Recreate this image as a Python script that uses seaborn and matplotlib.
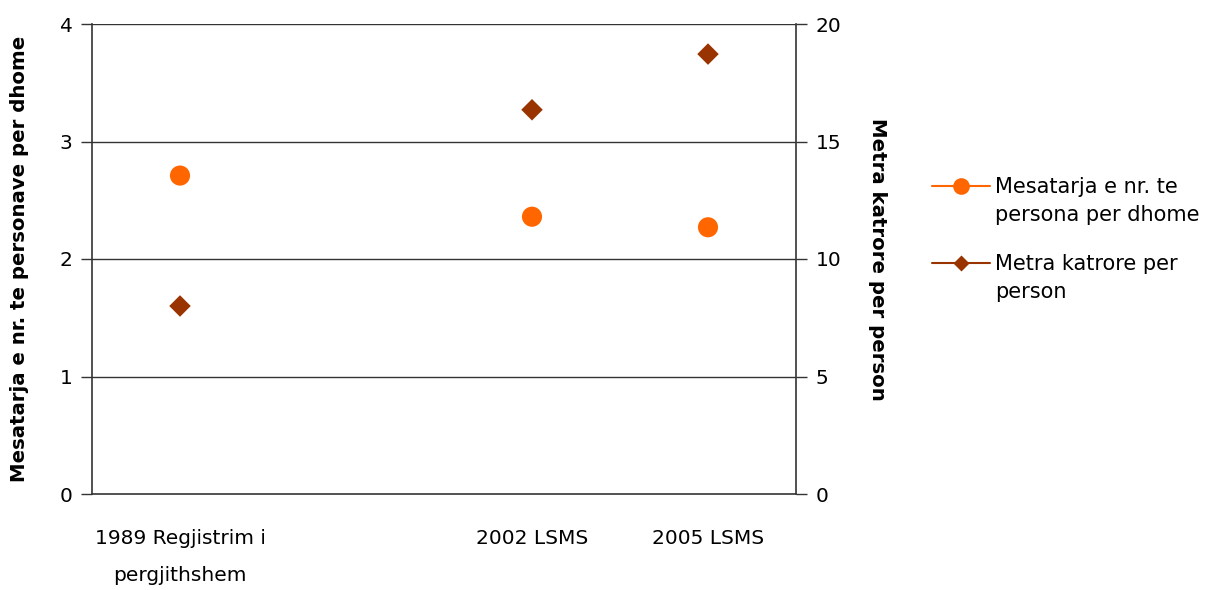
import numpy as np
import matplotlib
matplotlib.use("Agg")
import matplotlib.pyplot as plt
from matplotlib.lines import Line2D
from matplotlib.legend_handler import HandlerLine2D
from matplotlib.transforms import Affine2D
import seaborn as sns

categories = ["1989 Regjistrim i\npergjithshem", "", "2002 LSMS", "2005 LSMS"]
persons_per_room = [2.71, np.nan, 2.36, 2.27]
sqm_per_person = [8.0, np.nan, 16.35, 18.72]
left_ticks = [0, 1, 2, 3, 4]
right_ticks = [0, 5, 10, 15, 20]
label_left = "Mesatarja e nr. te personave per dhome"
label_right = "Metra katrore per person"
legend_labels = ["Mesatarja e nr. te\npersona per dhome", "Metra katrore per\nperson"]

sns.set_theme(style="white")
plt.rcParams['font.family'] = ['DejaVu Sans']
for k in ["text.color", "axes.labelcolor", "xtick.color", "ytick.color"]:
    plt.rcParams[k] = "black"
FS = 14.5
LFS = 15

fig = plt.figure(figsize=(12.16, 5.90), dpi=100)
ax = fig.add_axes([92/1216, 1-494/590, (796-92)/1216, (494-24)/590])
ax2 = ax.twinx()

x = np.arange(len(categories))
c_orange = "#FF6600"
c_brown = "#993300"

sns.scatterplot(x=x, y=persons_per_room, ax=ax, color=c_orange, marker="o", s=210,
                edgecolor="none", zorder=5)
sns.scatterplot(x=x, y=sqm_per_person, ax=ax2, color=c_brown, marker="D", s=120,
                edgecolor="none", zorder=5)

ax.set_xlim(-0.5, len(categories) - 0.5)
ax.set_ylim(0, 4)
ax2.set_ylim(0, 20)
ax.set_yticks(left_ticks)
ax2.set_yticks(right_ticks)
ax.set_yticklabels([str(t) for t in left_ticks], fontsize=FS)
ax2.set_yticklabels([str(t) for t in right_ticks], fontsize=FS)

ax.set_xticks(np.arange(len(categories) + 1) - 0.5)
ax.set_xticklabels([""] * (len(categories) + 1))
ax.set_xticks(x, minor=True)
ax.set_xticklabels(categories, minor=True, fontsize=FS)
for lbl in ax.get_xticklabels(minor=True):
    lbl.set_linespacing(2.2)
ax.tick_params(axis="x", which="minor", length=0, pad=25)
ax.tick_params(axis="x", which="major", direction="inout", length=14, width=1, color="#333333")
ax.tick_params(axis="y", direction="out", length=8, width=1, color="#333333", pad=6, left=True)
ax2.tick_params(axis="y", direction="out", length=8, width=1, color="#333333", pad=6, right=True)

for t in [1, 2, 3, 4]:
    ax.axhline(t, color="#333333", lw=1.0, zorder=1)

for name, sp in ax.spines.items():
    sp.set_visible(name in ("left", "bottom"))
    sp.set_color("#333333"); sp.set_linewidth(1.2)
for name, sp in ax2.spines.items():
    sp.set_visible(name == "right")
    sp.set_color("#333333"); sp.set_linewidth(1.2)

ax.set_ylabel(label_left, fontsize=14.2, fontweight="bold", labelpad=22)
ax2.set_ylabel(label_right, fontsize=14.2, fontweight="bold", rotation=270, labelpad=33)
ax.set_xlabel("")
ax.grid(False); ax2.grid(False)


class TopHandler(HandlerLine2D):
    def create_artists(self, legend, orig_handle, xdescent, ydescent, width, height, fontsize, trans):
        shift = Affine2D().translate(0, 11.0)
        return super().create_artists(legend, orig_handle, xdescent, ydescent, width, height,
                                      fontsize, shift + trans)


handles = [
    Line2D([0], [0], color=c_orange, lw=1.5, marker="o", markersize=12, markeredgecolor="none"),
    Line2D([0], [0], color=c_brown, lw=1.5, marker="D", markersize=8.5, markeredgecolor="none"),
]
leg = fig.legend(handles, legend_labels, loc="upper left", bbox_to_anchor=(913/1216, 1-158/590),
                 frameon=False, fontsize=LFS, handlelength=2.8, labelspacing=1.4, handletextpad=0.25,
                 handler_map={Line2D: TopHandler()})
for t in leg.get_texts():
    t.set_linespacing(1.5)

fig.savefig("out.png", dpi=100)
